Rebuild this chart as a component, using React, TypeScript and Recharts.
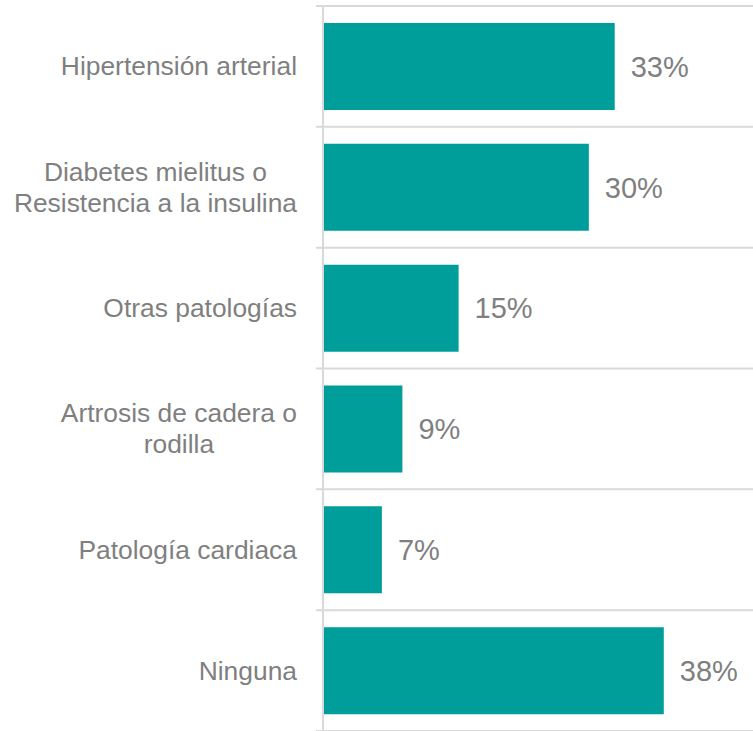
import { type FC } from "react";
import { Bar, BarChart, CartesianGrid, LabelList, XAxis, YAxis } from "recharts";

const categories = [
  ["Hipertensión arterial"],
  ["Diabetes mielitus o", "Resistencia a la insulina"],
  ["Otras patologías"],
  ["Artrosis de cadera o", "rodilla"],
  ["Patología cardiaca"],
  ["Ninguna"]
];

// estimated bar lengths (percent); labels show them rounded
const values = [32.7, 29.8, 15.2, 8.9, 6.6, 38.2];

const data = categories.map((lines, i) => ({ name: lines.join(" "), lines, value: values[i] }));

const TEAL = "#009E9A";
const GRID = "#D9D9D9";
const TEXT = "#7F7F7F";
const FONT = "'Liberation Sans', Arial, sans-serif";
const TICK_SIZE = 26.4;

let ctx: CanvasRenderingContext2D | null = null;
const measure = (s: string) => {
  if (!ctx) ctx = document.createElement("canvas").getContext("2d");
  if (!ctx) return s.length * TICK_SIZE * 0.5;
  ctx.font = `${TICK_SIZE}px ${FONT}`;
  return ctx.measureText(s).width;
};

const CategoryTick: FC<any> = ({ x, y, payload, index }) => {
  const lines: string[] = data[index]?.lines ?? [String(payload.value)];
  const lineHeight = 31;
  const blockW = Math.max(...lines.map(measure));
  const cx = x - blockW / 2;
  const startY = y - ((lines.length - 1) * lineHeight) / 2;
  return (
    <text
      x={cx}
      y={startY}
      textAnchor="middle"
      dominantBaseline="central"
      fill={TEXT}
      fontSize={TICK_SIZE}
      fontFamily={FONT}
    >
      {lines.map((l, i) => (
        <tspan key={i} x={cx} y={startY + i * lineHeight}>
          {l}
        </tspan>
      ))}
    </text>
  );
};

const App: FC = () => {
  return (
    <div style={{ width: 753, height: 731, overflow: "hidden", background: "#fff" }}>
      <style>{"body { margin: 0; }"}</style>
      <BarChart
        width={753}
        height={731}
        data={data}
        layout="vertical"
        margin={{ top: 6, right: 0, bottom: 0, left: 0 }}
        barSize={87}
      >
        <CartesianGrid
          vertical={false}
          horizontalCoordinatesGenerator={({ offset }: any) =>
            data
              .map((_, i) => offset.top + (i * offset.height) / data.length)
              .concat(offset.top + offset.height)
          }
          horizontal={(p: any) => (
            <line key={p.key ?? p.index} x1={p.x1 - 7} x2={p.x2} y1={p.y1} y2={p.y2} stroke={GRID} strokeWidth={2} />
          )}
        />
        <XAxis type="number" domain={[0, 48.2]} hide />
        <YAxis
          type="category"
          dataKey="name"
          width={323}
          axisLine={{ stroke: GRID, strokeWidth: 2 }}
          tickLine={false}
          tickSize={0}
          tickMargin={26}
          interval={0}
          tick={<CategoryTick />}
        />
        <Bar dataKey="value" fill={TEAL} isAnimationActive={false}>
          <LabelList
            dataKey="value"
            position="right"
            offset={16}
            fill={TEXT}
            fontSize={29}
            fontFamily={FONT}
            formatter={(v: any) => `${Math.round(Number(v))}%`}
          />
        </Bar>
      </BarChart>
    </div>
  );
};

export default App;
